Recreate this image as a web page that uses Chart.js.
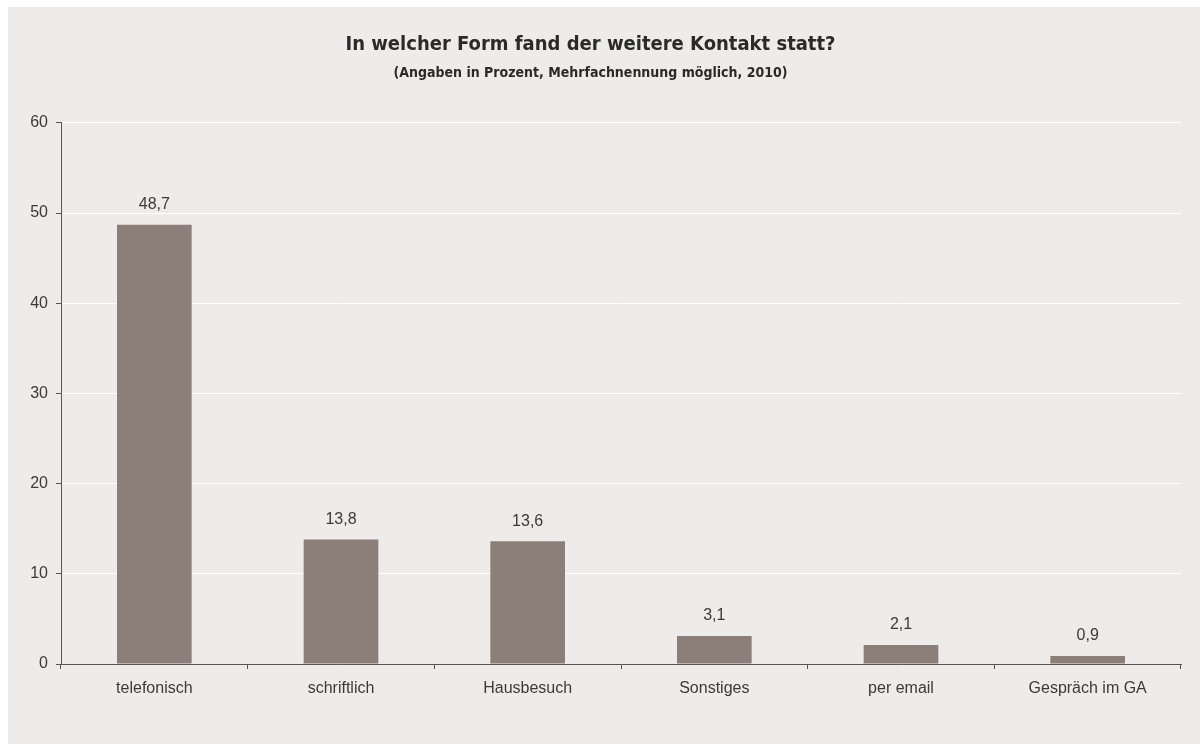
<!DOCTYPE html>
<html>
<head>
<meta charset="utf-8">
<script src="https://cdn.jsdelivr.net/npm/chart.js@4"></script>
<style>
html,body{margin:0;padding:0;background:#ffffff;}
#wrap{position:absolute;left:0;top:0;width:1200px;height:744px;}
</style>
</head>
<body>
<div id="wrap"><canvas id="c" width="1200" height="744"></canvas></div>
<script>
const categories = ["telefonisch", "schriftlich", "Hausbesuch", "Sonstiges", "per email", "Gespräch im GA"];
const values = [48.7, 13.8, 13.6, 3.1, 2.1, 0.9];
const yTicks = [0, 10, 20, 30, 40, 50, 60];
const titleText = "In welcher Form fand der weitere Kontakt statt?";
const subtitleText = "(Angaben in Prozent, Mehrfachnennung möglich, 2010)";

const TEXT = "#3a3a3a";
const AXIS = "#555555";
const PANEL = "#edecea";
const BAR = "#8c7f7a";
const LABEL_FONT = "'Liberation Sans', Arial, sans-serif";
const TITLE_FONT = "'Liberation Sans Narrow', 'DejaVu Sans Condensed', sans-serif";

const panelPlugin = {
  id: "panel",
  beforeDraw(chart) {
    const ctx = chart.ctx;
    ctx.save();
    ctx.fillStyle = "#ffffff";
    ctx.fillRect(0, 0, chart.width, chart.height);
    ctx.fillStyle = PANEL;
    ctx.fillRect(8, 7, chart.width - 8, chart.height - 7);
    ctx.restore();
  }
};

const valueLabels = {
  id: "valueLabels",
  afterDatasetsDraw(chart) {
    const ctx = chart.ctx;
    const meta = chart.getDatasetMeta(0);
    ctx.save();
    ctx.font = "16px " + LABEL_FONT;
    ctx.fillStyle = TEXT;
    ctx.textAlign = "center";
    ctx.textBaseline = "middle";
    meta.data.forEach((bar, i) => {
      const v = chart.data.datasets[0].data[i];
      ctx.fillText(v.toFixed(1).replace(".", ","), bar.x, bar.y - 20);
    });
    ctx.restore();
  }
};

new Chart(document.getElementById("c"), {
  type: "bar",
  data: {
    labels: categories,
    datasets: [{
      data: values,
      backgroundColor: BAR,
      borderWidth: 0,
      barPercentage: 0.4,
      categoryPercentage: 1.0
    }]
  },
  options: {
    responsive: false,
    animation: false,
    devicePixelRatio: 1,
    layout: { padding: { left: 0, right: 19, top: 0, bottom: 0 } },
    plugins: {
      legend: { display: false },
      tooltip: { enabled: false },
      title: {
        display: true,
        text: titleText,
        color: "#2a2a2a",
        font: { family: TITLE_FONT, size: 20, weight: "bold", lineHeight: 1.2 },
        padding: { top: 33, bottom: 6 }
      },
      subtitle: {
        display: true,
        text: subtitleText,
        color: "#2a2a2a",
        font: { family: TITLE_FONT, size: 14, weight: "bold", lineHeight: 1.2 },
        padding: { top: 2, bottom: 41 }
      }
    },
    scales: {
      x: {
        grid: {
          display: true,
          drawOnChartArea: false,
          drawTicks: true,
          tickLength: 5,
          tickColor: AXIS,
          offset: true
        },
        border: { display: true, color: AXIS, width: 1 },
        ticks: {
          color: TEXT,
          font: { family: LABEL_FONT, size: 16 },
          padding: 10,
          maxRotation: 0
        },
        afterFit(scale) { scale.height = 80; }
      },
      y: {
        min: 0,
        max: 60,
        afterBuildTicks(scale) { scale.ticks = yTicks.map(v => ({ value: v })); },
        grid: {
          color: (c) => (c.tick && c.tick.value === 0 ? "rgba(0,0,0,0)" : "#ffffff"),
          lineWidth: 1,
          drawTicks: true,
          tickLength: 5,
          tickColor: AXIS
        },
        border: { display: true, color: AXIS, width: 1 },
        ticks: {
          color: TEXT,
          font: { family: LABEL_FONT, size: 16 },
          padding: 8
        },
        afterFit(scale) { scale.width = 61; }
      }
    }
  },
  plugins: [panelPlugin, valueLabels]
});
</script>
</body>
</html>
